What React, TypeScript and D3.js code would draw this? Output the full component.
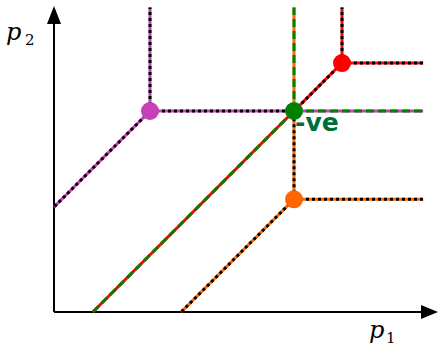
import React from 'react';
import * as d3 from 'd3';

// vertices of the tropical curves (data units)
const curveNames = ['magenta', 'red', 'orange', 'green'];
const vertexX = [2, 6, 5, 5];
const vertexY = [4.19, 5.19, 2.35, 4.19];
const curveColors = ['#c740b5', '#ff0000', '#ff6600', '#008000'];

const xMax = 8;
const yMax = 6.4;
const rayEndX = 7.69;
const rayEndY = 6.35;

type Pt = [number, number];

// three rays of a tropical line from its vertex
const rays = (vx: number, vy: number): Pt[][] => {
  const d = Math.min(vx, vy);
  return [
    [[vx, vy], [vx, rayEndY]],
    [[vx, vy], [rayEndX, vy]],
    [[vx, vy], [vx - d, vy - d]],
  ];
};

const App = () => {
  const W = 438, H = 346;
  const x = d3.scaleLinear().domain([0, xMax]).range([54, 438]);
  const y = d3.scaleLinear().domain([0, yMax]).range([312, 5]);
  const line = d3.line<Pt>().x(d => x(d[0])).y(d => y(d[1]));

  const g = curveNames.indexOf('green');
  const gx = vertexX[g], gy = vertexY[g];

  // black dotted overlays: the parts not covered by the green curve
  const mag = rays(vertexX[0], vertexY[0]);
  const red = rays(vertexX[1], vertexY[1]);
  const ora = rays(vertexX[2], vertexY[2]);
  const dotted: Pt[][] = [
    mag[0], [[vertexX[0], vertexY[0]], [gx, gy]], mag[2],
    red[0], red[1], [[vertexX[1], vertexY[1]], [gx, gy]],
    [[vertexX[2], vertexY[2]], [gx, gy]], ora[1], ora[2],
  ];

  return (
    <svg width={W} height={H} style={{ position: 'absolute', left: 0, top: 0 }}>
      {/* axes */}
      <line x1={x(0)} y1={y(0)} x2={422} y2={y(0)} stroke="#000" strokeWidth={2} />
      <line x1={x(0)} y1={y(0)} x2={x(0)} y2={22} stroke="#000" strokeWidth={2} />
      <path d={`M438,${y(0)} L421,${y(0) - 7} L421,${y(0) + 7} Z`} fill="#000" />
      <path d={`M${x(0)},6 L${x(0) - 7},24 L${x(0) + 7},24 Z`} fill="#000" />

      {/* coloured curves */}
      {[0, 1, 2].map(i => rays(vertexX[i], vertexY[i]).map((r, j) => (
        <path key={`${i}-${j}`} d={line(r) || ''} stroke={curveColors[i]} strokeWidth={3} fill="none" />
      )))}

      {dotted.map((r, j) => (
        <path key={`d${j}`} d={line(r) || ''} stroke="#000" strokeWidth={3} fill="none" strokeDasharray="3 3" />
      ))}

      {rays(gx, gy).map((r, j) => (
        <path key={`g${j}`} d={line(r) || ''} stroke={curveColors[g]} strokeWidth={3} fill="none" strokeDasharray="8 4" />
      ))}

      <text x={x(gx) + 1} y={y(gy) + 20} fill="#006e3c" fontFamily="DejaVu Sans" fontWeight="bold" fontSize={25}>-ve</text>

      {curveNames.map((n, i) => (
        <circle key={n} cx={x(vertexX[i])} cy={y(vertexY[i])} r={9} fill={curveColors[i]} />
      ))}

      <text x={369} y={338} fontFamily="DejaVu Serif" fontStyle="italic" fontSize={24}>p</text>
      <text x={386} y={343} fontFamily="DejaVu Serif" fontSize={15}>1</text>
      <text x={6} y={40} fontFamily="DejaVu Serif" fontStyle="italic" fontSize={24}>p</text>
      <text x={25} y={45} fontFamily="DejaVu Serif" fontSize={15}>2</text>
    </svg>
  );
};

export default App;
